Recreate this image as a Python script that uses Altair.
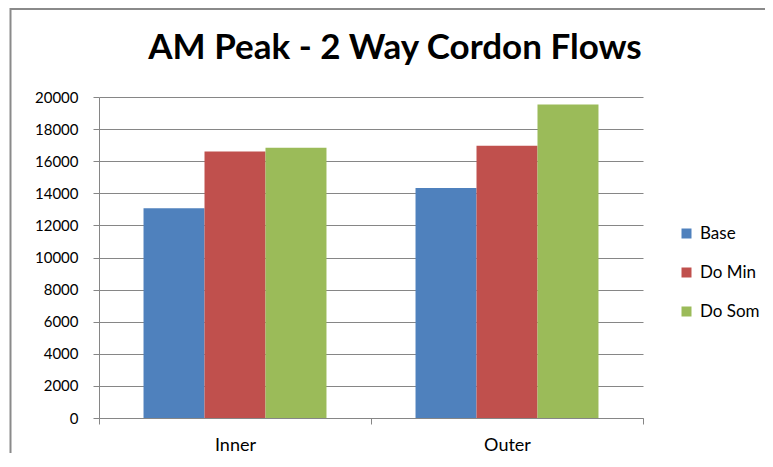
import altair as alt
import pandas as pd

TITLE = "AM Peak - 2 Way Cordon Flows"
CATEGORIES = ["Inner", "Outer"]
SERIES = ["Base", "Do Min", "Do Som"]
BASE = [13070, 14330]
DO_MIN = [16610, 16970]
DO_SOM = [16840, 19540]
COLORS = ["#4F81BD", "#C0504D", "#9BBB59"]
Y_TICKS = list(range(0, 20001, 2000))

rows = []
for name, vals in zip(SERIES, [BASE, DO_MIN, DO_SOM]):
    for cat, v in zip(CATEGORIES, vals):
        rows.append({"Category": cat, "Series": name, "Value": v})
df = pd.DataFrame(rows)

FONT = "Lato"
GRID = "#868686"

bars = alt.Chart(df).mark_bar().encode(
    x=alt.X("Category:N", sort=CATEGORIES,
            scale=alt.Scale(paddingInner=0, paddingOuter=0),
            axis=alt.Axis(title=None, labelAngle=0, tickBand="extent",
                          domainColor=GRID, tickColor=GRID, tickSize=6,
                          labelFont=FONT, labelFontSize=18, labelColor="#000000",
                          labelPadding=12, grid=False)),
    xOffset=alt.XOffset("Series:N", sort=SERIES,
                        scale=alt.Scale(paddingInner=0, paddingOuter=0.73)),
    y=alt.Y("Value:Q", scale=alt.Scale(domain=[0, 20000], nice=False),
            axis=alt.Axis(title=None, values=Y_TICKS, format="d",
                          domainColor=GRID, tickColor=GRID, tickSize=6,
                          gridColor=GRID, gridWidth=1,
                          labelFont=FONT, labelFontSize=15, labelColor="#000000",
                          labelPadding=15)),
    color=alt.Color("Series:N", sort=SERIES,
                    scale=alt.Scale(domain=SERIES, range=COLORS),
                    legend=alt.Legend(title=None, orient="none", legendX=579, legendY=128,
                                      symbolType="square", symbolSize=100,
                                      symbolStrokeWidth=0,
                                      labelFont=FONT, labelFontSize=17, labelColor="#000000",
                                      labelOffset=5, rowPadding=21, padding=0)),
)

border = alt.Chart(pd.DataFrame({"a": [0]})).mark_rect(
    fill="transparent", stroke="#8a8a8a", strokeWidth=2
).encode(
    x=alt.value(-88.5), x2=alt.value(900), y=alt.value(-88), y2=alt.value(700)
)

title = alt.Chart(pd.DataFrame({"t": [TITLE]})).mark_text(
    font=FONT, fontSize=35, fontWeight="bold", color="#000000",
    align="center", baseline="middle"
).encode(text="t:N", x=alt.value(296), y=alt.value(-49))

chart = alt.layer(border, title, bars).properties(
    width=544, height=321,
    padding={"left": 91, "top": 89, "right": 122, "bottom": 35},
    autosize=alt.AutoSizeParams(type="none"),
).configure_view(stroke=None)

chart.save("out.html", embed_options={"renderer": "svg", "actions": False})
